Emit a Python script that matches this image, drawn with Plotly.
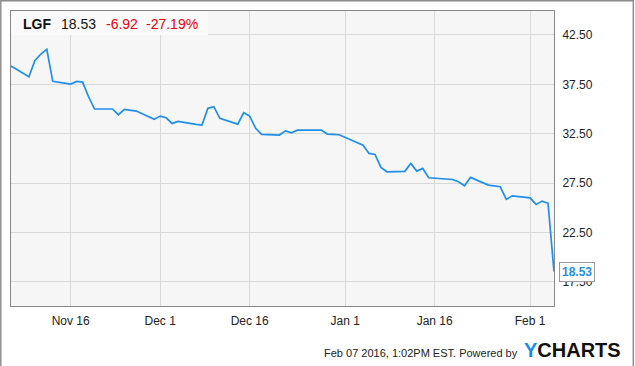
import plotly.graph_objects as go

# ---- data ----
dates = [
    "2015-11-06", "2015-11-09", "2015-11-10", "2015-11-11", "2015-11-12", "2015-11-13",
    "2015-11-16", "2015-11-17", "2015-11-18", "2015-11-19", "2015-11-20",
    "2015-11-23", "2015-11-24", "2015-11-25", "2015-11-27",
    "2015-11-30", "2015-12-01", "2015-12-02", "2015-12-03", "2015-12-04",
    "2015-12-07", "2015-12-08", "2015-12-09", "2015-12-10", "2015-12-11",
    "2015-12-14", "2015-12-15", "2015-12-16", "2015-12-17", "2015-12-18",
    "2015-12-21", "2015-12-22", "2015-12-23", "2015-12-24",
    "2015-12-28", "2015-12-29", "2015-12-30", "2015-12-31",
    "2016-01-04", "2016-01-05", "2016-01-06", "2016-01-07", "2016-01-08",
    "2016-01-11", "2016-01-12", "2016-01-13", "2016-01-14", "2016-01-15",
    "2016-01-19", "2016-01-20", "2016-01-21", "2016-01-22",
    "2016-01-25", "2016-01-26", "2016-01-27", "2016-01-28", "2016-01-29",
    "2016-02-01", "2016-02-02", "2016-02-03", "2016-02-04", "2016-02-05",
]
prices = [
    39.36, 38.27, 39.90, 40.57, 41.05, 37.80,
    37.53, 37.80, 37.73, 36.24, 35.00,
    35.00, 34.42, 34.96, 34.79,
    33.95, 34.28, 34.11, 33.54, 33.75,
    33.45, 33.37, 35.07, 35.23, 34.05,
    33.47, 34.62, 34.28, 33.04, 32.43,
    32.36, 32.79, 32.59, 32.86,
    32.86, 32.46, 32.43, 32.39,
    31.34, 30.50, 30.40, 29.08, 28.64,
    28.68, 29.49, 28.71, 28.98, 28.03,
    27.86, 27.63, 27.22, 28.07,
    27.29, 27.20, 27.12, 25.84, 26.20,
    26.00, 25.33, 25.67, 25.45, 18.53,
]
ticker = "LGF"
last_price = "18.53"
change = "-6.92"
change_pct = "-27.19%"
x_tickvals = ["2015-11-16", "2015-12-01", "2015-12-16", "2016-01-01", "2016-01-16", "2016-02-01"]
y_tickvals = [17.5, 22.5, 27.5, 32.5, 37.5, 42.5]
footer_text = "Feb 07 2016, 1:02PM EST. Powered by"

# ---- layout geometry (pixels) ----
W, H = 635, 366
L, R, T, B = 11, 81, 11, 60
PW, PH = W - L - R, H - T - B


def px(p):
    return (p - L) / PW


def py(p):
    return (H - B - p) / PH


LINE = "#1f8fea"
FONT = "Liberation Sans, Arial, sans-serif"

fig = go.Figure()
fig.add_trace(go.Scatter(
    x=dates, y=prices, mode="lines",
    line=dict(color=LINE, width=1.7),
    hoverinfo="skip", showlegend=False,
))

annotations = [
    dict(x=px(21.3), y=py(23.8), xref="paper", yref="paper", xanchor="left", yanchor="middle",
         text="<b>%s</b>" % ticker, showarrow=False, font=dict(family=FONT, size=14, color="#111")),
    dict(x=px(59.3), y=py(23.8), xref="paper", yref="paper", xanchor="left", yanchor="middle",
         text=last_price, showarrow=False, font=dict(family=FONT, size=14, color="#111")),
    dict(x=px(103.7), y=py(23.8), xref="paper", yref="paper", xanchor="left", yanchor="middle",
         text=change, showarrow=False, font=dict(family=FONT, size=14, color="#f00000")),
    dict(x=px(144), y=py(23.8), xref="paper", yref="paper", xanchor="left", yanchor="middle",
         text=change_pct, showarrow=False, font=dict(family=FONT, size=14, color="#f00000")),
    # footer
    dict(x=px(520), y=py(353), xref="paper", yref="paper", xanchor="right", yanchor="middle",
         text=footer_text, showarrow=False, font=dict(family=FONT, size=11, color="#222")),
    dict(x=px(522), y=py(350), xref="paper", yref="paper", xanchor="left", yanchor="middle",
         text="<b><span style='color:#1a8ce8'>Y</span>CHARTS</b>", showarrow=False,
         font=dict(family=FONT, size=20, color="#111")),
    # last value label
    dict(x=dates[-1], y=prices[-1], xref="x", yref="y", xanchor="left", yanchor="middle",
         xshift=5, text="<b>%s</b>" % last_price, showarrow=False,
         font=dict(family=FONT, size=12, color="#1f8fea"),
         bgcolor="white", bordercolor="#999", borderwidth=1, borderpad=2),
]

shapes = [
    # outer frame
    dict(type="rect", xref="paper", yref="paper", x0=px(0.8), x1=px(633.3), y0=py(367), y1=py(0.8),
         line=dict(color="#8a8a8a", width=1.4), fillcolor="rgba(0,0,0,0)", layer="below"),
    # header box
    dict(type="rect", xref="paper", yref="paper", x0=px(11.5), x1=px(208), y0=py(35), y1=py(11.5),
         line=dict(width=0), fillcolor="#fafafa", layer="above"),
    # pointer of last value label
    dict(type="path", xref="x", yref="y", xsizemode="pixel", ysizemode="pixel",
         xanchor=dates[-1], yanchor=prices[-1],
         path="M 6,-5 L 1,0 L 6,5", fillcolor="white", line=dict(color="#999", width=1), layer="above"),
]

fig.update_layout(
    width=W, height=H,
    margin=dict(l=L, r=R, t=T, b=B, pad=0),
    paper_bgcolor="white", plot_bgcolor="#f6f6f6",
    font=dict(family=FONT, size=12, color="#222"),
    annotations=annotations, shapes=shapes,
    xaxis=dict(
        type="date", range=["2015-11-06", "2016-02-05"],
        tickvals=x_tickvals, tickformat="%b %-d",
        showgrid=True, gridcolor="#d8d8d8", gridwidth=1,
        showline=True, linecolor="#888", linewidth=1, mirror=True,
        ticks="", ticklabelstandoff=4, zeroline=False,
        tickfont=dict(family=FONT, size=12, color="#222"),
    ),
    yaxis=dict(
        range=[15.04, 44.93], side="right",
        tickvals=y_tickvals, tickformat=".2f",
        showgrid=True, gridcolor="#d8d8d8", gridwidth=1,
        showline=True, linecolor="#888", linewidth=1, mirror=True,
        ticks="", ticklabelstandoff=5, zeroline=False,
        tickfont=dict(family=FONT, size=12, color="#222"),
    ),
)

fig.write_html("out.html")
